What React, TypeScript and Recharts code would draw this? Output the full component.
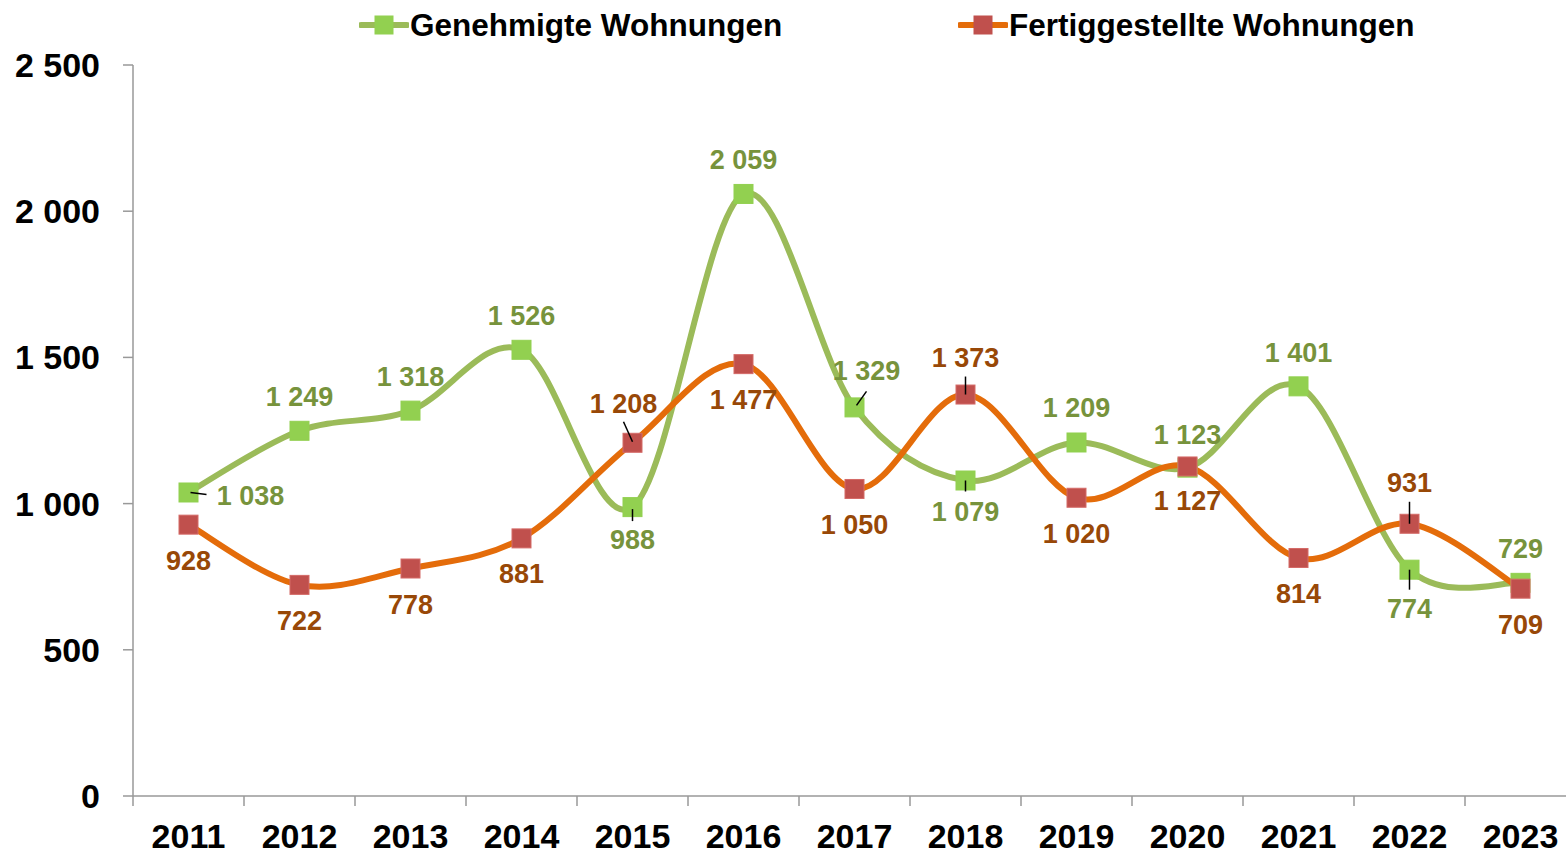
import React from 'react'
import { LineChart, Line, XAxis, YAxis } from 'recharts'

const years = ['2011', '2012', '2013', '2014', '2015', '2016', '2017', '2018', '2019', '2020', '2021', '2022', '2023']
const genehmigt = [1038, 1249, 1318, 1526, 988, 2059, 1329, 1079, 1209, 1123, 1401, 774, 729]
const fertig = [928, 722, 778, 881, 1208, 1477, 1050, 1373, 1020, 1127, 814, 931, 709]
const yTicks = [0, 500, 1000, 1500, 2000, 2500]

const rows = years.map((year, i) => ({ year, gen: genehmigt[i], fer: fertig[i] }))

// label placement per point: [dx, dy, leader x1, y1, x2, y2] relative to the marker
type Place = [number, number, number[] | null]
const genPlace: Place[] = [
  [62, 4, [2, 0, 18, 2]],
  [0, -34, null],
  [0, -34, null],
  [0, -34, null],
  [0, 33, [0, 2, 0, 14]],
  [0, -34, null],
  [12, -36, [2, -2, 12, -16]],
  [0, 31, [0, 0, 0, 11]],
  [0, -34, null],
  [0, -33, null],
  [0, -33, null],
  [0, 39, [0, 0, 0, 20]],
  [0, -34, null],
]
const ferPlace: Place[] = [
  [0, 36, null],
  [0, 36, null],
  [0, 36, null],
  [0, 36, null],
  [-9, -39, [0, -1, -9, -21]],
  [0, 36, null],
  [0, 36, null],
  [0, -37, [0, 0, 0, -18]],
  [0, 36, null],
  [0, 35, null],
  [0, 36, null],
  [0, -41, [0, 0, 0, -22]],
  [0, 36, null],
]

const fmt = (n: number) => String(n).replace(/\B(?=(\d{3})+(?!\d))/g, ' ')

const AXIS = '#999'
const X_TICK_SIZE = 10
const X_TICK_MARGIN = 18

// Excel-like smoothed line (Catmull-Rom through the points)
const smooth: any = (context: any) => {
  let pts: number[][] = []
  return {
    areaStart() {},
    areaEnd() {},
    lineStart() { pts = [] },
    lineEnd() {
      if (!pts.length) return
      context.moveTo(pts[0][0], pts[0][1])
      for (let i = 0; i < pts.length - 1; i++) {
        const p0 = pts[i - 1] || pts[i]
        const p1 = pts[i]
        const p2 = pts[i + 1]
        const p3 = pts[i + 2] || p2
        context.bezierCurveTo(
          p1[0] + (p2[0] - p0[0]) / 6, p1[1] + (p2[1] - p0[1]) / 6,
          p2[0] - (p3[0] - p1[0]) / 6, p2[1] - (p3[1] - p1[1]) / 6,
          p2[0], p2[1]
        )
      }
    },
    point(x: number, y: number) { pts.push([+x, +y]) },
  }
}

// year label in the band centre, tick mark on the band's left edge
const YearTick = (props: any) => {
  const { x, y, payload, index } = props
  const edge = payload.coordinate - (payload.offset || 0)
  const axisY = y - X_TICK_SIZE - X_TICK_MARGIN
  return (
    <g key={`yt-${index}`}>
      <line x1={edge} y1={axisY} x2={edge} y2={axisY + X_TICK_SIZE} stroke={AXIS} strokeWidth={1.5} />
      <text x={x} y={y} dy="0.71em" textAnchor="middle" fill="#000" fontSize={34} fontWeight="bold">
        {payload.value}
      </text>
    </g>
  )
}

const square = (fill: string, stroke: string) => (props: any) => {
  const { cx, cy, index } = props
  return <rect key={`sq-${index}`} x={cx - 9.5} y={cy - 9.5} width={19} height={19} fill={fill} stroke={stroke} strokeWidth={1} />
}

const dataLabel = (places: Place[], color: string) => (props: any) => {
  const { x, y, index, value } = props
  const [dx, dy, leader] = places[index]
  return (
    <g key={`lb-${index}`}>
      {leader && (
        <line x1={x + leader[0]} y1={y + leader[1]} x2={x + leader[2]} y2={y + leader[3]} stroke="#000" strokeWidth={1.5} />
      )}
      <text x={x + dx} y={y + dy} textAnchor="middle" dominantBaseline="central" fill={color} fontSize={27} fontWeight="bold">
        {fmt(value)}
      </text>
    </g>
  )
}

function LegendItem({ left, line, marker, label }: { left: number; line: string; marker: string; label: string }) {
  return (
    <div style={{ position: 'absolute', left, top: 6, display: 'flex', alignItems: 'center', height: 38 }}>
      <svg width={50} height={20}>
        <line x1={2} y1={10} x2={48} y2={10} stroke={line} strokeWidth={6} strokeLinecap="round" />
        <rect x={15.5} y={0.5} width={19} height={19} fill={marker} />
      </svg>
      <span style={{ fontSize: 31.5, fontWeight: 'bold', color: '#000', marginLeft: 1 }}>{label}</span>
    </div>
  )
}

export default function App() {
  return (
    <div style={{ position: 'relative', width: 1566, height: 853, fontFamily: '"Liberation Sans", Arial, sans-serif', background: '#fff' }}>
      <style>{'body{margin:0}'}</style>
      <LineChart width={1566} height={853} data={rows} margin={{ top: 65, right: -10, left: 0, bottom: 0 }}>
        <XAxis
          dataKey="year"
          scale="band"
          height={57}
          axisLine={{ stroke: AXIS, strokeWidth: 1.5 }}
          tickLine={false}
          tickSize={X_TICK_SIZE}
          tickMargin={X_TICK_MARGIN}
          interval={0}
          tick={YearTick}
        />
        <YAxis
          domain={[0, 2500]}
          ticks={yTicks}
          width={133}
          tickSize={10}
          tickMargin={23}
          tickFormatter={fmt}
          tick={{ fill: '#000', fontSize: 34, fontWeight: 'bold' }}
          axisLine={{ stroke: AXIS, strokeWidth: 1.5 }}
          tickLine={{ stroke: AXIS, strokeWidth: 1.5 }}
        />
        <Line
          dataKey="gen"
          type={smooth}
          stroke="#9BBB59"
          strokeWidth={6}
          dot={square('#92D050', '#92D050')}
          activeDot={false}
          label={dataLabel(genPlace, '#77933C')}
          isAnimationActive={false}
        />
        <Line
          dataKey="fer"
          type={smooth}
          stroke="#E46C0A"
          strokeWidth={6}
          dot={square('#C0504D', '#D46A67')}
          activeDot={false}
          label={dataLabel(ferPlace, '#984807')}
          isAnimationActive={false}
        />
      </LineChart>
      <LegendItem left={359} line="#9BBB59" marker="#92D050" label="Genehmigte Wohnungen" />
      <LegendItem left={958} line="#E46C0A" marker="#C0504D" label="Fertiggestellte Wohnungen" />
    </div>
  )
}
